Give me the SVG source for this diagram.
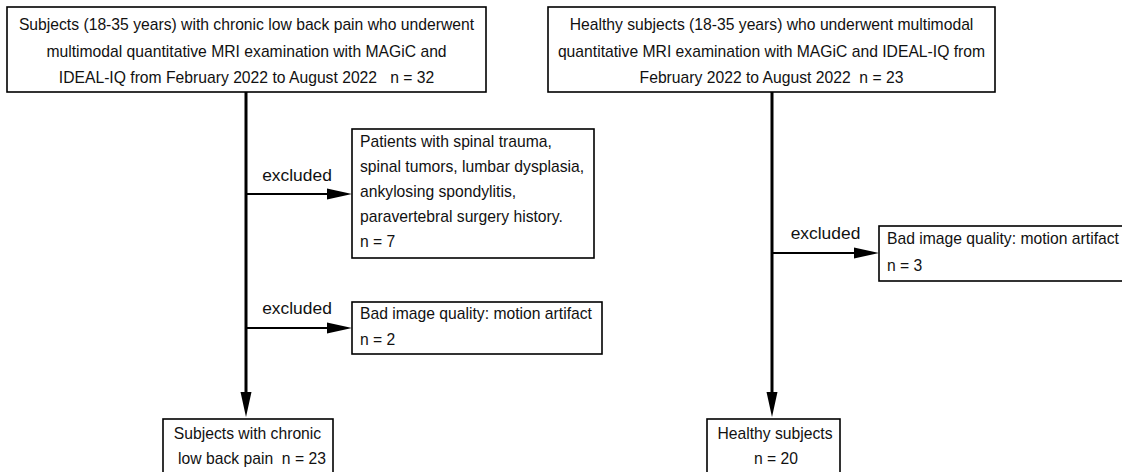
<svg xmlns="http://www.w3.org/2000/svg" width="1122" height="472" viewBox="0 0 1122 472">
<style>
.box{fill:#fff;stroke:#000;stroke-width:1.6}
.t{font-family:"Liberation Sans",Arial,sans-serif;font-size:15.7px;fill:#111;white-space:pre}
.lbl{font-size:17.4px}
.c{text-anchor:middle}
.main{fill:none;stroke:#000;stroke-width:3}
.br{fill:none;stroke:#000;stroke-width:2}
</style>
<defs>
<marker id="ah" markerUnits="userSpaceOnUse" markerWidth="25" markerHeight="12" refX="4" refY="6" orient="auto">
<path d="M0,0.5 L25,6 L0,11.5 z" fill="#000"/>
</marker>
</defs>
<rect width="1122" height="472" fill="#fff"/>
<g id="connectors">
<path class="main" d="M246,92 V396" marker-end="url(#ah)"/>
<path class="br" d="M246,194 H331" marker-end="url(#ah)"/>
<path class="br" d="M246,328 H331" marker-end="url(#ah)"/>
<path class="main" d="M772,92 V396" marker-end="url(#ah)"/>
<path class="br" d="M772,253 H858" marker-end="url(#ah)"/>
<text class="t lbl c" x="297" y="181">excluded</text>
<text class="t lbl c" x="297" y="314">excluded</text>
<text class="t lbl c" x="825.5" y="239">excluded</text>
</g>
<g id="patients">
<rect class="box" x="7" y="7" width="479" height="85"/>
<text class="t c" x="246.5" y="30">Subjects (18-35 years) with chronic low back pain who underwent</text>
<text class="t c" x="246.5" y="56.5">multimodal quantitative MRI examination with MAGiC and</text>
<text class="t c" x="246.5" y="83">IDEAL-IQ from February 2022 to August 2022   n = 32</text>
</g>
<g id="healthy">
<rect class="box" x="548" y="7" width="447" height="85"/>
<text class="t c" x="771.5" y="30">Healthy subjects (18-35 years) who underwent multimodal</text>
<text class="t c" x="771.5" y="56.5">quantitative MRI examination with MAGiC and IDEAL-IQ from</text>
<text class="t c" x="771.5" y="83">February 2022 to August 2022  n = 23</text>
</g>
<g id="excl1">
<rect class="box" x="352" y="129" width="242" height="129"/>
<text class="t" x="360" y="147">Patients with spinal trauma,</text>
<text class="t" x="360" y="172">spinal tumors, lumbar dysplasia,</text>
<text class="t" x="360" y="197">ankylosing spondylitis,</text>
<text class="t" x="360" y="222">paravertebral surgery history.</text>
<text class="t" x="360" y="247">n = 7</text>
</g>
<g id="excl2">
<rect class="box" x="352" y="302" width="250" height="52"/>
<text class="t" x="360" y="319">Bad image quality: motion artifact</text>
<text class="t" x="360" y="345">n = 2</text>
</g>
<g id="excl3">
<rect class="box" x="879" y="226" width="260" height="55"/>
<text class="t" x="887" y="244">Bad image quality: motion artifact</text>
<text class="t" x="887" y="271">n = 3</text>
</g>
<g id="final-patients">
<rect class="box" x="163" y="419" width="170" height="60"/>
<text class="t c" x="247.5" y="439">Subjects with chronic</text>
<text class="t c" x="252" y="464">low back pain  n = 23</text>
</g>
<g id="final-healthy">
<rect class="box" x="707" y="419" width="133" height="60"/>
<text class="t c" x="775" y="439">Healthy subjects</text>
<text class="t c" x="776" y="464">n = 20</text>
</g>
</svg>
